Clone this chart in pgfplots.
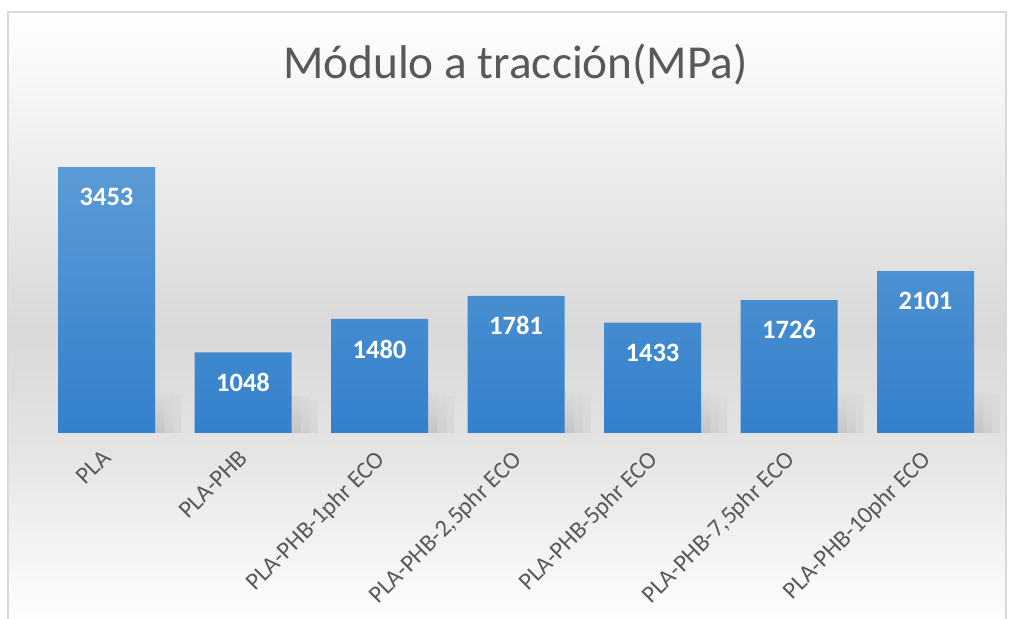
\documentclass[border=0pt]{standalone}
\usepackage{pgfplots}
\pgfplotsset{compat=1.18}
\usepackage{fontspec}
\setmainfont{Carlito}
\definecolor{txt}{HTML}{595959}
\definecolor{bartop}{HTML}{5B9BD5}
\definecolor{barbot}{HTML}{3380CC}
\begin{document}
\begin{tikzpicture}[x=1bp,y=1bp]
\useasboundingbox (0,0) rectangle (1009,619);
\shade[top color=white, bottom color=black!15] (8,289) rectangle (1006,607);
\shade[top color=black!15, bottom color=black!11] (8,179) rectangle (1006,289.5);
\shade[top color=black!11, bottom color=white] (8,-10) rectangle (1006,179.5);
\draw[black!15, line width=1.5bp] (8,-10) rectangle (1006,607);
\node[anchor=base, text=txt, font=\fontsize{47.3bp}{56bp}\selectfont] at (515.5,540) {Módulo a tracción(MPa)};
\begin{axis}[
  scale only axis,
  width=955.5bp, height=308.1bp,
  at={(38.25bp,186bp)}, anchor=south west,
  xmin=-0.5, xmax=6.5, ymin=0, ymax=4000,
  axis line style={draw=none},
  ytick=\empty,
  xtick={0,1,2,3,4,5,6},
  xticklabels={PLA, PLA-PHB, PLA-PHB-1phr ECO, {PLA-PHB-2,5phr ECO}, PLA-PHB-5phr ECO, {PLA-PHB-7,5phr ECO}, PLA-PHB-10phr ECO},
  major tick length=0pt,
  xticklabel style={font=\fontsize{24.3bp}{28bp}\selectfont, text=txt, inner sep=0pt, xshift=-5.5bp, yshift=-15.5bp, rotate=45, anchor=north east},
  clip=false,
]
% soft shadows behind the bars
\addplot[ybar, bar width=97bp, bar shift=26bp, draw=none, top color=black!14, middle color=black!19, bottom color=black!16]
  coordinates {(0,500) (1,420) (2,480) (3,500) (4,480) (5,500) (6,500)};
\addplot[ybar, bar width=97bp, bar shift=18bp, draw=none, top color=black!14, middle color=black!26, bottom color=black!19]
  coordinates {(0,540) (1,460) (2,520) (3,540) (4,520) (5,540) (6,540)};
\addplot[ybar, bar width=97bp, bar shift=9bp, draw=none, top color=black!14, middle color=black!34, bottom color=black!23]
  coordinates {(0,560) (1,480) (2,540) (3,560) (4,540) (5,560) (6,560)};
\addplot[ybar, bar width=97bp, bar shift=0pt, draw=none, top color=bartop, bottom color=barbot,
  point meta=explicit symbolic, nodes near coords,
  every node near coord/.append style={anchor=center, yshift=-30bp, text=white, font=\bfseries\fontsize{26.5bp}{30bp}\selectfont}]
  coordinates {(0,3453) [3453] (1,1048) [1048] (2,1480) [1480] (3,1781) [1781] (4,1433) [1433] (5,1726) [1726] (6,2101) [2101]};
\end{axis}
\end{tikzpicture}
\end{document}
